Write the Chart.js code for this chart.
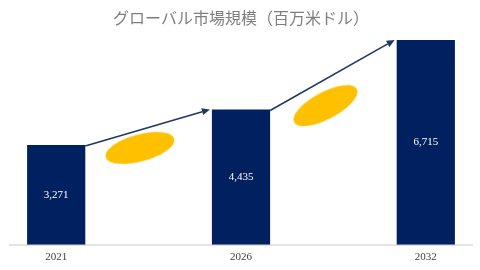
<!DOCTYPE html>
<html><head><meta charset="utf-8">
<script src="https://cdn.jsdelivr.net/npm/chart.js@4/dist/chart.umd.min.js"></script>
<style>html,body{margin:0;padding:0;background:#fff}#wrap{width:480px;height:270px}</style>
</head><body><div id="wrap"><canvas id="c" width="480" height="270"></canvas></div>
<script>
const titleText = 'グローバル市場規模（百万米ドル）';
const categories = ['2021', '', '2026', '', '2032'];
const marketValues = [3271, null, 4435, null, 6715];
const decorY = [null, 3250, null, 4700, null];
const decorRotation = [0, -15, 0, -28, 0];

function ellipseCanvas(){
  const c = document.createElement('canvas');
  c.width = 96; c.height = 40;
  const g = c.getContext('2d');
  g.fillStyle = '#FFC000';
  g.beginPath();
  g.ellipse(48 - 9, 20, 35.5, 13.5, 0, 0, Math.PI*2);
  g.fill();
  return c;
}
const ell = ellipseCanvas();

const overlay = {
  id: 'overlay',
  afterDatasetsDraw(chart){
    const ctx = chart.ctx;
    const meta = chart.getDatasetMeta(0);
    const bars = meta.data.filter((b, i) => marketValues[i] != null);
    ctx.save();
    ctx.strokeStyle = '#203864'; ctx.fillStyle = '#203864'; ctx.lineWidth = 1.6;
    for (let i = 0; i < bars.length - 1; i++){
      const a = bars[i], b = bars[i+1];
      const x1 = a.x + a.width/2, y1 = a.y + 1;
      const x2 = b.x - b.width/2 - 2, y2 = b.y;
      const ang = Math.atan2(y2 - y1, x2 - x1);
      const hl = 8, hw = 3.5;
      const bx = x2 - hl*Math.cos(ang), by = y2 - hl*Math.sin(ang);
      ctx.beginPath(); ctx.moveTo(x1, y1); ctx.lineTo(bx, by); ctx.stroke();
      ctx.beginPath();
      ctx.moveTo(x2, y2);
      ctx.lineTo(bx + hw*Math.sin(ang), by - hw*Math.cos(ang));
      ctx.lineTo(bx - hw*Math.sin(ang), by + hw*Math.cos(ang));
      ctx.closePath(); ctx.fill();
    }
    ctx.fillStyle = '#ffffff';
    ctx.font = '11px "Liberation Serif", serif';
    ctx.textAlign = 'center'; ctx.textBaseline = 'middle';
    meta.data.forEach((b, i) => {
      const v = marketValues[i];
      if (v == null) return;
      ctx.fillText(v.toLocaleString('en-US'), b.x, (b.y + b.base)/2);
    });
    ctx.restore();
  }
};

new Chart(document.getElementById('c'), {
  type: 'bar',
  data: {
    labels: categories,
    datasets: [
      { type: 'bar', data: marketValues, backgroundColor: '#002060', categoryPercentage: 1, barPercentage: 0.63, order: 2 },
      { type: 'line', data: decorY, showLine: false, pointStyle: ell, rotation: decorRotation, pointRadius: 20, pointHoverRadius: 20, clip: false, order: 1 }
    ]
  },
  options: {
    responsive: false, animation: false,
    layout: { autoPadding: false, padding: { left: 10, right: 8, top: 0, bottom: 0 } },
    plugins: {
      legend: { display: false }, tooltip: { enabled: false },
      title: { display: true, text: titleText, color: '#7f7f7f', font: { size: 16, family: '"Noto Sans CJK JP", sans-serif', weight: 'normal' }, padding: { top: 8, bottom: 4 } }
    },
    scales: {
      x: { grid: { display: false, drawTicks: false, tickLength: 0 }, border: { display: true, color: '#e3e3e3', width: 2 },
           ticks: { color: '#404040', padding: 6, autoSkip: false, maxRotation: 0, font: { size: 11, family: '"Liberation Serif", serif' } } },
      y: { display: false, min: 0, max: 7000 }
    }
  },
  plugins: [overlay]
});
</script>
</body></html>
